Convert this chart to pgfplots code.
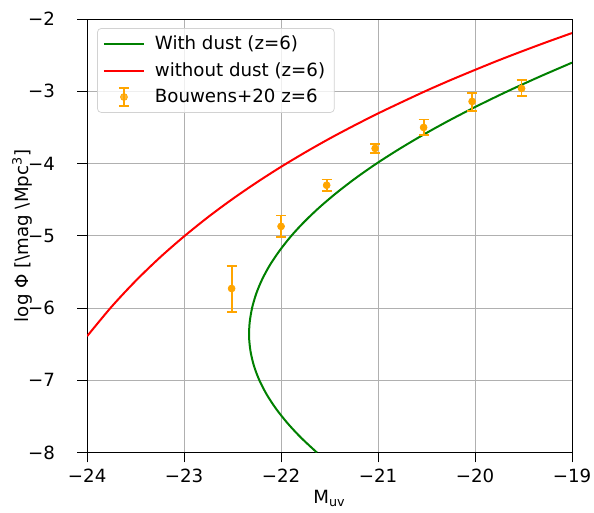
\documentclass[border=0pt]{standalone}
\usepackage{fontspec}
\setmainfont{DejaVu Sans}
\usepackage{pgfplots}
\usepackage{pgfplotstable}
\pgfplotsset{compat=1.18}
\definecolor{mplgreen}{HTML}{008000}
\definecolor{mplred}{HTML}{FF0000}
\definecolor{mplorange}{HTML}{FFA500}
\definecolor{gridgray}{HTML}{B0B0B0}
\pgfplotstableread{
x y ep em
-22.51 -5.73 0.31 0.32
-22.00 -4.87 0.15 0.15
-21.53 -4.30 0.08 0.08
-21.03 -3.79 0.06 0.06
-20.53 -3.50 0.11 0.11
-20.03 -3.14 0.12 0.13
-19.52 -2.96 0.12 0.11
}\bouwens
\begin{document}
\begin{tikzpicture}
\useasboundingbox (-47.9pt,-33pt) rectangle (278.6pt,248.7pt);
\begin{axis}[
  at={(0pt,0pt)}, anchor=south west,
  scale only axis,
  width=266.5pt, height=238.2pt,
  xmin=-24, xmax=-19, ymin=-8, ymax=-2,
  xtick={-24,-23,-22,-21,-20,-19},
  xticklabels={−24,−23,−22,−21,−20,−19},
  ytick={-8,-7,-6,-5,-4,-3,-2},
  yticklabels={−8,−7,−6,−5,−4,−3,−2},
  tick align=outside,
  major tick length=5.5pt,
  tick style={black, line width=0.5pt},
  axis line style={line width=0.5pt},
  xtick pos=bottom, ytick pos=left,
  xticklabel style={yshift=0pt},
  yticklabel style={xshift=-8.6pt},
  grid=major,
  major grid style={gridgray, line width=0.5pt},
  xlabel={M\textsubscript{uv}},
  ylabel={log Φ [\textbackslash mag \textbackslash Mpc\textsuperscript{3}]},
  xlabel style={yshift=2.5pt},
  ylabel style={yshift=-9pt},
  legend cell align=left,
  legend style={at={(axis cs:-23.897,-2.125)}, anchor=north west,
    draw=gray!35, rounded corners=2pt, fill=white, fill opacity=0.8, text opacity=1,
    inner xsep=3pt, inner ysep=2pt,
    row sep=1.5pt, font=\fontsize{10}{12}\selectfont},
]
\addplot[mplgreen, smooth, line width=1.1pt, legend image code/.code={\path[draw=none,fill=none] (0pt,0pt) -- (26pt,0pt);\draw[mplgreen, line width=1.1pt] (0pt,0pt) -- (22pt,0pt);}] coordinates {
(-21.631,-8.0) (-21.791,-7.8) (-21.930,-7.6) (-22.049,-7.4) (-22.147,-7.2)
(-22.224,-7.0) (-22.280,-6.8) (-22.315,-6.6) (-22.330,-6.4) (-22.324,-6.2)
(-22.299,-6.0) (-22.256,-5.8) (-22.194,-5.6) (-22.113,-5.4) (-22.012,-5.2)
(-21.894,-5.0) (-21.756,-4.8) (-21.599,-4.6) (-21.423,-4.4) (-21.229,-4.2)
(-21.016,-4.0) (-20.783,-3.8) (-20.532,-3.6) (-20.262,-3.4) (-19.973,-3.2)
(-19.666,-3.0) (-19.339,-2.8) (-19.0,-2.603)
};
\addlegendentry{With dust (z=6)}
\addplot[mplred, smooth, line width=1.1pt, legend image code/.code={\path[draw=none,fill=none] (0pt,0pt) -- (26pt,0pt);\draw[mplred, line width=1.1pt] (0pt,0pt) -- (22pt,0pt);}] coordinates {
(-24.0,-6.390) (-23.75,-5.985) (-23.5,-5.625) (-23.25,-5.301) (-23.0,-5.008)
(-22.75,-4.738) (-22.5,-4.490) (-22.25,-4.260) (-22.0,-4.045) (-21.75,-3.844)
(-21.5,-3.654) (-21.25,-3.476) (-21.0,-3.306) (-20.75,-3.146) (-20.5,-2.990)
(-20.25,-2.843) (-20.0,-2.703) (-19.75,-2.567) (-19.5,-2.438) (-19.25,-2.313)
(-19.0,-2.193)
};
\addlegendentry{without dust (z=6)}
\addplot[only marks, mark=*, mark size=1.9pt, mplorange, mark options={fill=mplorange, draw=mplorange},
  legend image code/.code={\path[draw=none,fill=none] (0pt,0pt) -- (26pt,0pt);
    \draw[mplorange, line width=1pt] (11pt,-5pt) -- (11pt,5pt);
    \draw[mplorange, line width=1pt] (8.25pt,-5pt) -- (13.75pt,-5pt);
    \draw[mplorange, line width=1pt] (8.25pt,5pt) -- (13.75pt,5pt);
    \fill[mplorange] (11pt,0pt) circle (1.9pt);},
  error bars/.cd, y dir=both, y explicit, error mark=-,
  error bar style={draw=mplorange, color=mplorange, line width=1pt},
  error mark options={draw=mplorange, color=mplorange, line width=1pt, mark size=2.75pt, rotate=90}]
  table[x=x, y=y, y error plus=ep, y error minus=em] {\bouwens};
\addlegendentry{Bouwens+20 z=6}
\end{axis}
\end{tikzpicture}
\end{document}
